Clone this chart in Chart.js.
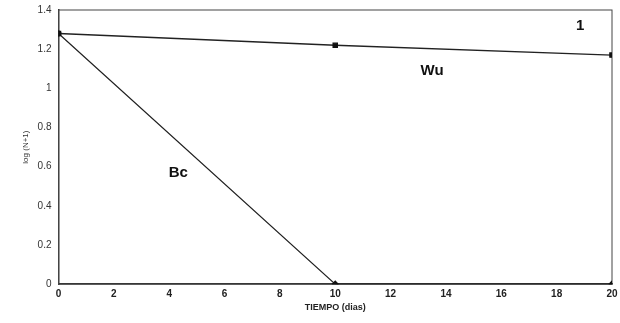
<!DOCTYPE html>
<html>
<head>
<meta charset="utf-8">
<script src="https://cdn.jsdelivr.net/npm/chart.js"></script>
<style>
  html, body { margin: 0; padding: 0; background: #fff; }
  #wrap { width: 620px; height: 323px; }
</style>
</head>
<body>
<div id="wrap"><canvas id="chart"></canvas></div>
<script>
const days = [0, 10, 20];
const wuValues = [1.28, 1.22, 1.17];
const bcValues = [1.28, 0, 0];
const yTicks = [0, 0.2, 0.4, 0.6, 0.8, 1, 1.2, 1.4];
const xTicks = [0, 2, 4, 6, 8, 10, 12, 14, 16, 18, 20];

const labelsPlugin = {
    id: 'labels',
    afterDatasetsDraw(chart) {
        const ctx = chart.ctx;
        const x = chart.scales.x, y = chart.scales.y;
        ctx.save();
        ctx.fillStyle = '#111';
        ctx.font = 'bold 15px Arial, "Liberation Sans", sans-serif';
        ctx.textAlign = 'center';
        ctx.textBaseline = 'middle';
        ctx.fillText('Bc', x.getPixelForValue(4.33), y.getPixelForValue(0.57));
        ctx.fillText('Wu', x.getPixelForValue(13.5), y.getPixelForValue(1.09));
        ctx.fillText('1', x.getPixelForValue(18.85), y.getPixelForValue(1.32));
        ctx.restore();
    }
};

const borderPlugin = {
    id: 'border',
    beforeDatasetsDraw(chart) {
        const a = chart.chartArea, ctx = chart.ctx;
        ctx.save();
        ctx.strokeStyle = '#444';
        ctx.lineWidth = 1;
        ctx.strokeRect(a.left, a.top, a.right - a.left, a.bottom - a.top);
        ctx.restore();
    }
};

new Chart(document.getElementById('chart'), {
    type: 'line',
    data: {
        datasets: [{
            label: 'Wu',
            data: days.map((d, i) => ({ x: d, y: wuValues[i] })),
            borderColor: '#222',
            borderWidth: 1.3,
            pointStyle: 'rect',
            pointRadius: 3,
            pointBackgroundColor: '#111',
            pointBorderColor: '#111',
            tension: 0
        }, {
            label: 'Bc',
            data: days.map((d, i) => ({ x: d, y: bcValues[i] })),
            borderColor: '#222',
            borderWidth: 1.2,
            pointStyle: 'rectRot',
            pointRadius: 3,
            pointBackgroundColor: '#111',
            pointBorderColor: '#111',
            tension: 0
        }]
    },
    options: {
        responsive: true,
        maintainAspectRatio: false,
        animation: false,
        layout: { padding: { top: 10, right: 8, left: 21, bottom: 10 } },
        plugins: { legend: { display: false }, tooltip: { enabled: false } },
        scales: {
            x: {
                type: 'linear',
                min: 0, max: 20,
                afterBuildTicks: s => { s.ticks = xTicks.map(v => ({ value: v })); },
                grid: { display: false, drawTicks: true, tickLength: 4, color: '#333' },
                border: { color: '#333', width: 1.5 },
                ticks: { color: '#222', font: { size: 10, weight: 'bold', family: 'Arial, "Liberation Sans", sans-serif' }, padding: 0 },
                title: { display: true, text: 'TIEMPO (dias)', color: '#222', font: { size: 9, weight: 'bold', family: 'Arial, "Liberation Sans", sans-serif' }, padding: { top: 2, bottom: 0 } }
            },
            y: {
                min: 0, max: 1.4,
                afterBuildTicks: s => { s.ticks = yTicks.map(v => ({ value: v })); },
                grid: { display: false, tickLength: 4, color: '#333' },
                border: { color: '#333', width: 1.5 },
                ticks: { color: '#333', font: { size: 10, family: 'Arial, "Liberation Sans", sans-serif' }, padding: 3,
                    callback: v => String(Math.round(v * 10) / 10) },
                title: { display: true, text: 'log (N+1)', color: '#333', font: { size: 8, family: 'Arial, "Liberation Sans", sans-serif' }, padding: { top: 0, bottom: 4 } }
            }
        }
    },
    plugins: [borderPlugin, labelsPlugin]
});
</script>
</body>
</html>
